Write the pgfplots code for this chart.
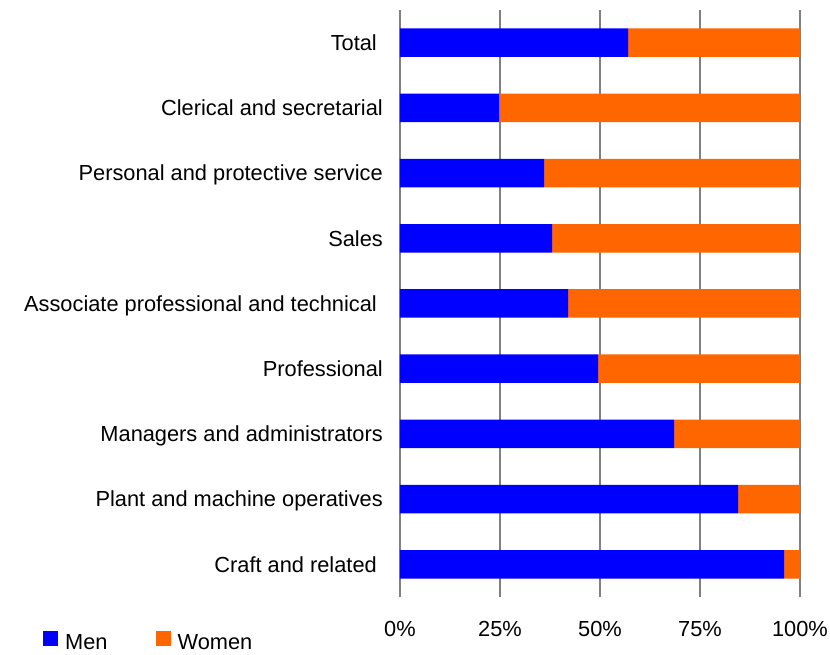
\documentclass[border=0pt]{standalone}
\usepackage{pgfplots}
\pgfplotsset{compat=1.18}
\usepackage{fontspec}
\setmainfont{Liberation Sans}
\definecolor{menblue}{HTML}{0000FF}
\definecolor{womenorange}{HTML}{FF6600}
\definecolor{gridgray}{HTML}{808080}
\begin{document}
\begin{tikzpicture}[font=\fontsize{21.8pt}{26pt}\selectfont]
\useasboundingbox (0,0) rectangle (830pt,654pt);
\begin{axis}[
  at={(400pt,57pt)}, anchor=south west,
  scale only axis, width=400pt, height=587pt,
  xbar stacked, bar width=28.5pt,
  xmin=0, xmax=100, ymin=-0.5, ymax=8.5,
  axis line style={draw=none},
  xmajorgrids, grid style={draw=gridgray, line width=1.5pt},
  major tick length=0pt, tick style={draw=none},
  xtick={0,25,50,75,100},
  xticklabels={0\%,25\%,50\%,75\%,100\%},
  ytick={0,1,2,3,4,5,6,7,8},
  yticklabels={Craft and related\hspace*{6pt},Plant and machine operatives,Managers and administrators,Professional,Associate professional and technical\hspace*{6pt},Sales,Personal and protective service,Clerical and secretarial,Total\hspace*{6pt}},
  yticklabel style={inner sep=0pt, anchor=base east, xshift=-17pt, yshift=-7.8pt},
  xticklabel style={inner sep=0pt, anchor=base, yshift=-39pt},
  legend columns=2,
  legend style={at={(-0.8925,-0.0772)}, anchor=west, draw=none, fill=none, inner sep=0pt,
    /tikz/every odd column/.append style={column sep=5pt},
    /tikz/every even column/.append style={column sep=46pt}},
  legend image code/.code={\fill[#1] (0pt,-3pt) rectangle (15pt,12pt);},
]
\addplot[fill=menblue, draw=none] coordinates {(96,0) (84.5,1) (68.5,2) (49.5,3) (42,4) (38,5) (36,6) (24.75,7) (57,8)};
\addplot[fill=womenorange, draw=none] coordinates {(4,0) (15.5,1) (31.5,2) (50.5,3) (58,4) (62,5) (64,6) (75.25,7) (43,8)};
\legend{Men,Women}
\end{axis}
\end{tikzpicture}
\end{document}
